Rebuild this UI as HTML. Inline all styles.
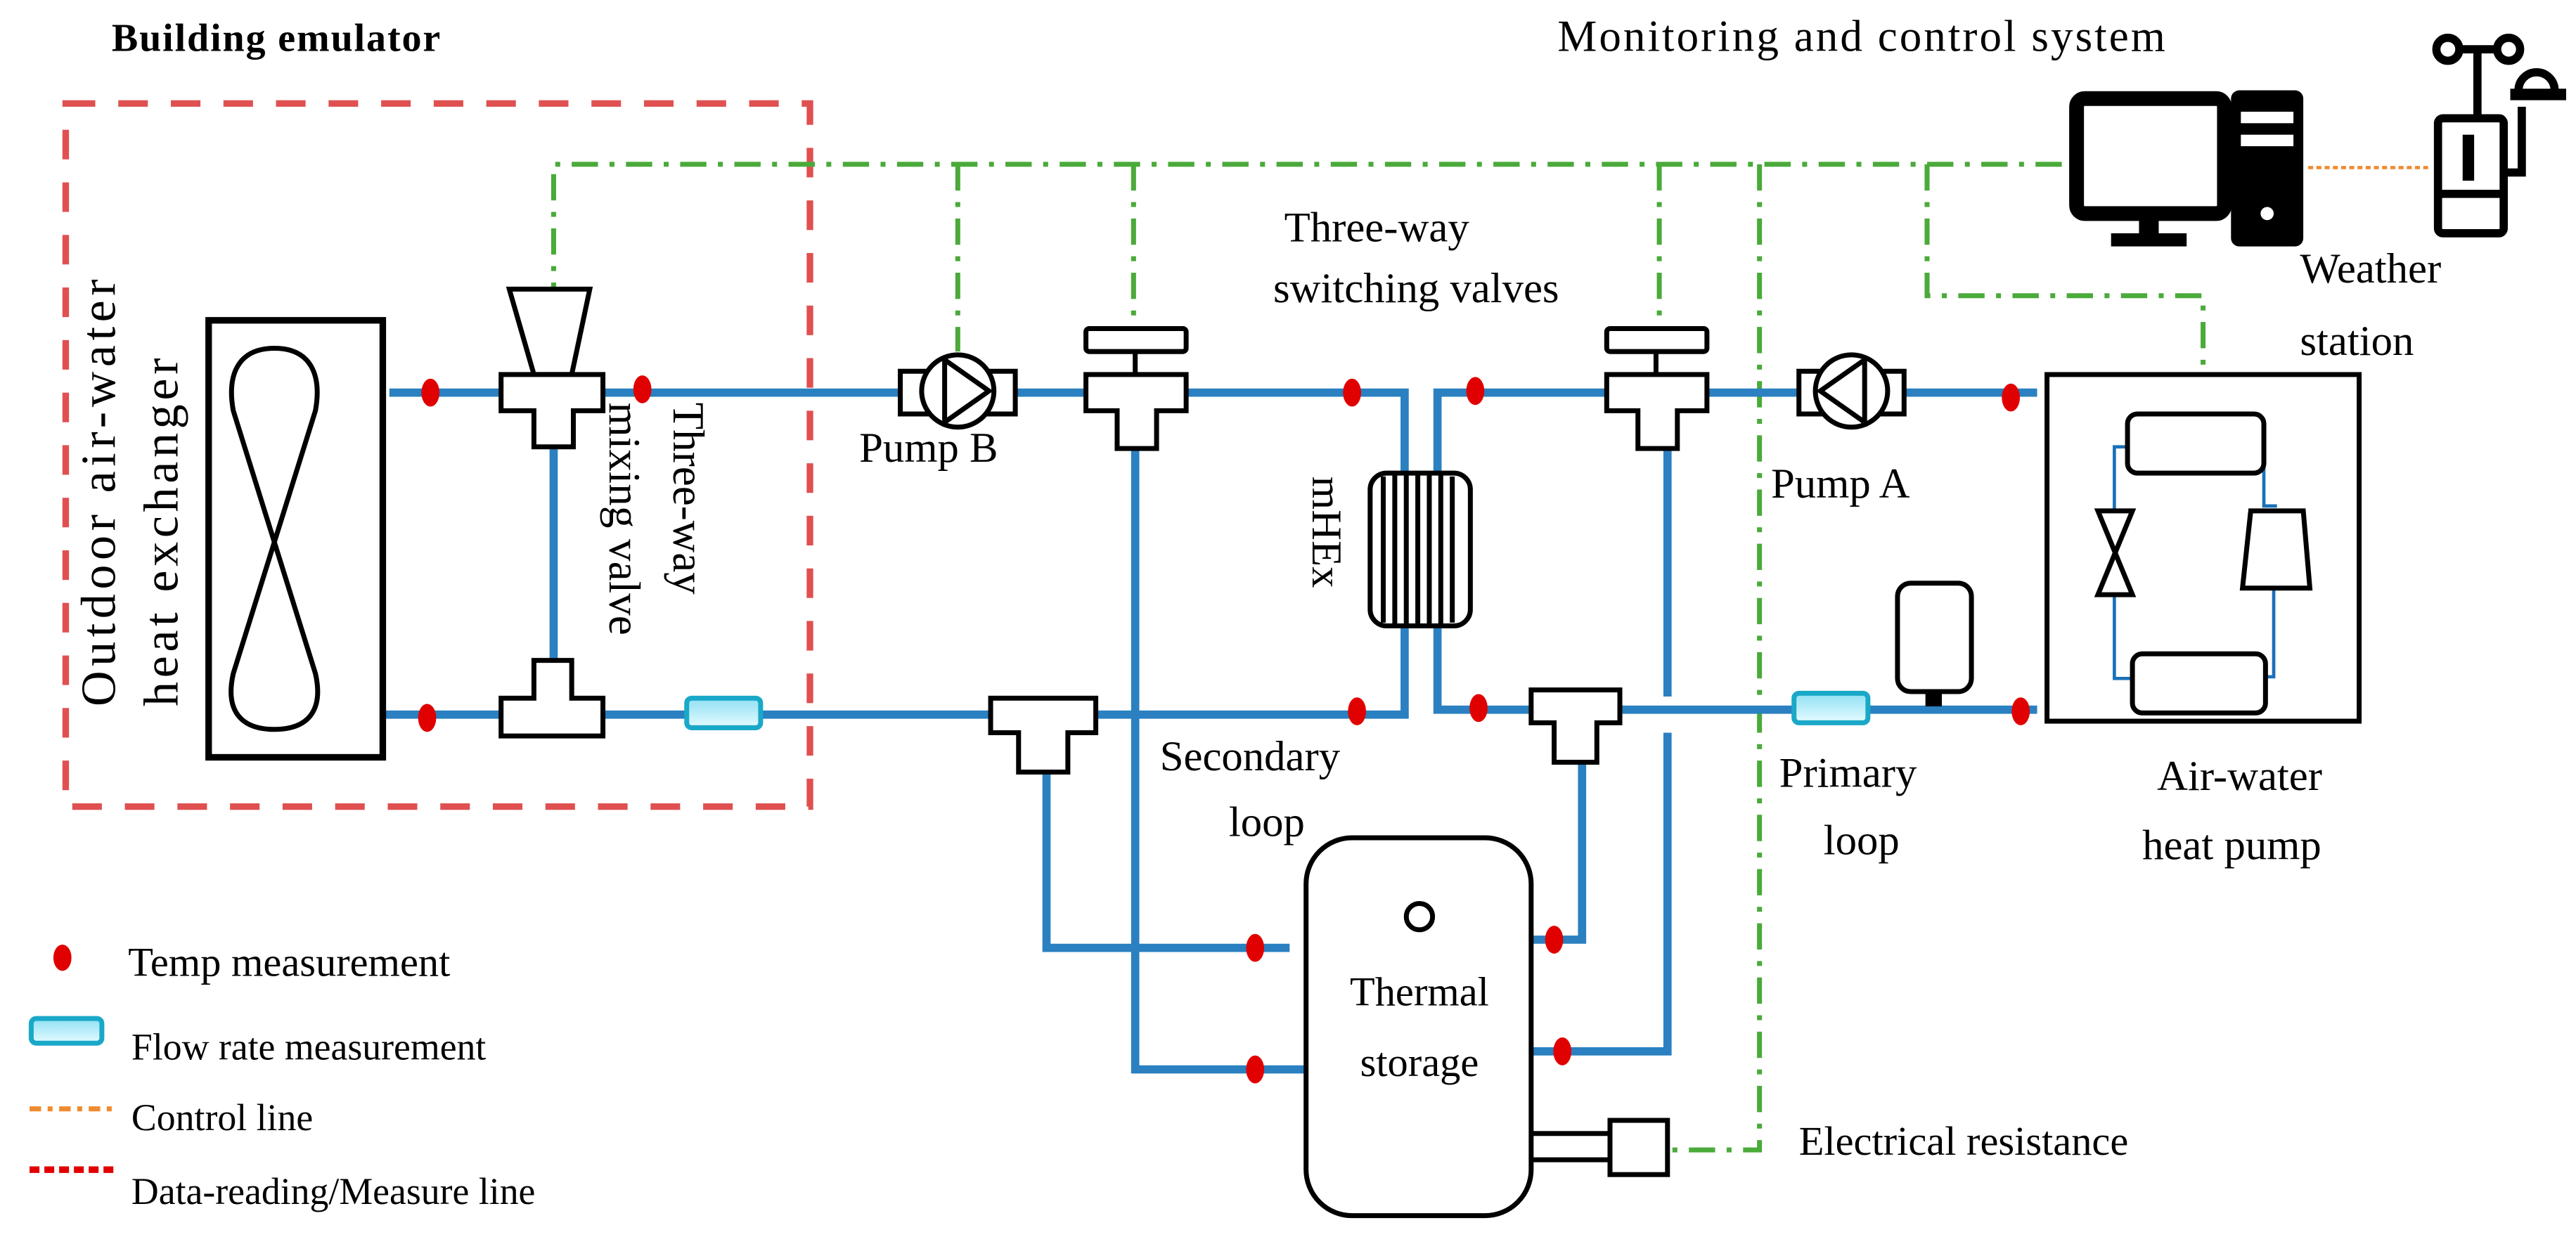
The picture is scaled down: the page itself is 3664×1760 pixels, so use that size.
<!DOCTYPE html>
<html><head><meta charset="utf-8"><style>
html,body{margin:0;padding:0;background:#fff;}
svg{display:block;}
text{font-family:"Liberation Serif",serif;fill:#000;}
</style></head><body>
<svg width="3664" height="1760" viewBox="0 0 1568 753" preserveAspectRatio="none" xmlns="http://www.w3.org/2000/svg">
<defs>
<linearGradient id="fg" x1="0" y1="0" x2="0" y2="1"><stop offset="0" stop-color="#8fe0f4"/><stop offset="1" stop-color="#e6fbff"/></linearGradient>
</defs>
<rect width="1568" height="753" fill="#fff"/>

<text x="68" y="31" font-size="24" font-weight="bold" textLength="200">Building emulator</text>
<text x="948" y="31" font-size="27" textLength="370">Monitoring and control system</text>

<rect x="40" y="63" width="453" height="428" fill="none" stroke="#e05050" stroke-width="4" stroke-dasharray="18,14"/>

<g fill="none" stroke="#4aaa3a" stroke-width="3" stroke-dasharray="16,7,3,7">
<path d="M1255,100 H337 V176"/>
<path d="M583,100 V214"/>
<path d="M690,100 V200"/>
<path d="M1010,100 V200"/>
<path d="M1071,100 V700 H1015"/>
<path d="M1173,100 V180 H1341 V228"/>
</g>
<line x1="1405" y1="102" x2="1478" y2="102" stroke="#f08a30" stroke-width="2" stroke-dasharray="3,2"/>

<g fill="none" stroke="#2a80c0" stroke-width="5">
<path d="M237,239 H855 V435 H233"/>
<path d="M1240,239 H875 V432 H1240"/>
<path d="M337,250 V420"/>
<path d="M691,255 V651 H795"/>
<path d="M637,455 V577 H785"/>
<path d="M1015,255 V424 M1015,446 V640 H932"/>
<path d="M963,440 V572 H932"/>
</g>

<rect x="127" y="195" width="106" height="266" fill="#fff" stroke="#000" stroke-width="4"/>
<path d="M167,212 C145,212 138,228 142,250 L192,410 C197,432 188,444 167,444 C146,444 137,432 142,410 L192,250 C196,228 189,212 167,212Z" fill="none" stroke="#000" stroke-width="3"/>

<g fill="#fff" stroke="#000" stroke-width="3">
<polygon points="310,176 359,176 348,228 325,228"/>
<path d="M305,228 H367 V250 H349 V272 H325 V250 H305Z"/>
<path d="M305,448 H367 V425 H348 V402 H325 V425 H305Z"/>
<rect x="661" y="200" width="61" height="14" rx="2"/>
<line x1="691" y1="214" x2="691" y2="228"/>
<path d="M661,228 H722 V250 H704 V273 H680 V250 H661Z"/>
<rect x="978" y="200" width="61" height="14" rx="2"/>
<line x1="1008" y1="214" x2="1008" y2="228"/>
<path d="M978,228 H1039 V250 H1021 V273 H997 V250 H978Z"/>
<path d="M603,425 H667 V446 H650 V470 H620 V446 H603Z"/>
<path d="M932,420 H986 V440 H972 V464 H946 V440 H932Z"/>
<rect x="548" y="226" width="70" height="26"/>
<circle cx="583" cy="238" r="22"/>
<polyline points="575,219 602,238 575,257 575,219" fill="none"/>
<rect x="1095" y="226" width="64" height="26"/>
<circle cx="1127" cy="238" r="22"/>
<polyline points="1135,219 1108,238 1135,257 1135,219" fill="none"/>
</g>

<g stroke="#000" stroke-width="3" fill="#fff">
<rect x="834" y="288" width="61" height="93" rx="10"/>
<path d="M842,290 V379 M849,289 V380 M856,289 V380 M863,289 V380 M870,289 V380 M877,289 V380 M884,290 V379" fill="none"/>
</g>

<rect x="418" y="425" width="45" height="18" rx="3" fill="url(#fg)" stroke="#1aa8c8" stroke-width="3"/>
<rect x="1092" y="422" width="45" height="18" rx="3" fill="url(#fg)" stroke="#1aa8c8" stroke-width="3"/>

<rect x="1155" y="355" width="45" height="66" rx="8" fill="#fff" stroke="#000" stroke-width="3"/>
<rect x="1172" y="421" width="10" height="9" fill="#000"/>

<rect x="1246" y="228" width="190" height="211" fill="#fff" stroke="#000" stroke-width="3"/>
<g fill="none" stroke="#1a70b8" stroke-width="2">
<path d="M1295,272 H1287 V311"/>
<path d="M1287,362 V413 H1298"/>
<path d="M1378,272 V308 H1386"/>
<path d="M1384,358 V412 H1379"/>
</g>
<g fill="#fff" stroke="#000" stroke-width="3">
<rect x="1295" y="252" width="83" height="36" rx="6"/>
<rect x="1298" y="398" width="81" height="36" rx="6"/>
<polygon points="1277,311 1298,311 1277,362 1298,362"/>
<polygon points="1370,311 1402,311 1406,358 1365,358"/>
</g>

<rect x="795" y="510" width="137" height="230" rx="28" fill="#fff" stroke="#000" stroke-width="3"/>
<circle cx="864" cy="558" r="8" fill="none" stroke="#000" stroke-width="3"/>
<text x="864" y="612" font-size="25" text-anchor="middle">Thermal</text>
<text x="864" y="655" font-size="25" text-anchor="middle">storage</text>
<line x1="932" y1="690" x2="980" y2="690" stroke="#000" stroke-width="3"/>
<line x1="932" y1="706" x2="980" y2="706" stroke="#000" stroke-width="3"/>
<rect x="980" y="682" width="35" height="33" fill="#fff" stroke="#000" stroke-width="3"/>

<g fill="#e00000">
<ellipse cx="262" cy="239" rx="5.5" ry="8.5"/>
<ellipse cx="391" cy="237" rx="5.5" ry="8.5"/>
<ellipse cx="823" cy="239" rx="5.5" ry="8.5"/>
<ellipse cx="898" cy="238" rx="5.5" ry="8.5"/>
<ellipse cx="1224" cy="242" rx="5.5" ry="8.5"/>
<ellipse cx="260" cy="437" rx="5.5" ry="8.5"/>
<ellipse cx="826" cy="433" rx="5.5" ry="8.5"/>
<ellipse cx="900" cy="431" rx="5.5" ry="8.5"/>
<ellipse cx="1230" cy="433" rx="5.5" ry="8.5"/>
<ellipse cx="764" cy="577" rx="5.5" ry="8.5"/>
<ellipse cx="764" cy="651" rx="5.5" ry="8.5"/>
<ellipse cx="946" cy="572" rx="5.5" ry="8.5"/>
<ellipse cx="951" cy="640" rx="5.5" ry="8.5"/>
</g>

<rect x="1264" y="60" width="90" height="70" rx="5" fill="none" stroke="#000" stroke-width="9"/>
<rect x="1302" y="130" width="12" height="14" fill="#000"/>
<rect x="1285" y="142" width="46" height="8" fill="#000"/>
<rect x="1358" y="55" width="44" height="95" rx="5" fill="#000"/>
<rect x="1364" y="68" width="32" height="7" fill="#fff"/>
<rect x="1364" y="82" width="32" height="7" fill="#fff"/>
<circle cx="1380" cy="130" r="4" fill="#fff"/>

<g fill="none" stroke="#000" stroke-width="5">
<circle cx="1490" cy="30" r="7"/>
<circle cx="1527" cy="30" r="7"/>
<line x1="1497" y1="30" x2="1520" y2="30"/>
<line x1="1508" y1="30" x2="1508" y2="72"/>
<rect x="1484" y="72" width="40" height="70" rx="3"/>
<line x1="1484" y1="118" x2="1524" y2="118"/>
<path d="M1535,65 V105 H1526"/>
<path d="M1533,55 A11,11 0 0 1 1555,55"/>
</g>
<rect x="1528" y="54" width="34" height="7" fill="#000"/>
<rect x="1499" y="82" width="7" height="28" fill="#000"/>

<text x="1400" y="172" font-size="26">Weather</text>
<text x="1400" y="216" font-size="26">station</text>
<text x="838" y="147" font-size="26" text-anchor="middle">Three-way</text>
<text x="862" y="184" font-size="26" text-anchor="middle">switching valves</text>
<text x="523" y="281" font-size="26">Pump B</text>
<text x="1078" y="303" font-size="26">Pump A</text>
<text x="706" y="469" font-size="26">Secondary</text>
<text x="748" y="509" font-size="26">loop</text>
<text x="1083" y="479" font-size="26">Primary</text>
<text x="1110" y="520" font-size="26">loop</text>
<text x="1313" y="481" font-size="26">Air-water</text>
<text x="1304" y="523" font-size="26">heat pump</text>
<text x="1095" y="703" font-size="25">Electrical resistance</text>

<text transform="translate(70,300) rotate(-90)" font-size="30" text-anchor="middle" textLength="260">Outdoor air-water</text>
<text transform="translate(108,324) rotate(-90)" font-size="30" text-anchor="middle" textLength="212">heat exchanger</text>
<text transform="translate(410,245) rotate(90)" font-size="27">Three-way</text>
<text transform="translate(371,245) rotate(90)" font-size="27">mixing valve</text>
<text transform="translate(799,290) rotate(90)" font-size="26">mHEx</text>

<ellipse cx="38" cy="583" rx="5.5" ry="8" fill="#e00000"/>
<text x="78" y="594" font-size="25">Temp measurement</text>
<rect x="19" y="620" width="43" height="15" rx="3" fill="url(#fg)" stroke="#1aa8c8" stroke-width="3"/>
<text x="80" y="645" font-size="23">Flow rate measurement</text>
<line x1="18" y1="675" x2="72" y2="675" stroke="#f08a30" stroke-width="3" stroke-dasharray="7,4,3,4"/>
<text x="80" y="688" font-size="23">Control line</text>
<line x1="18" y1="712" x2="72" y2="712" stroke="#e00000" stroke-width="4" stroke-dasharray="6,3"/>
<text x="80" y="733" font-size="23">Data-reading/Measure line</text>
</svg>
</body></html>
